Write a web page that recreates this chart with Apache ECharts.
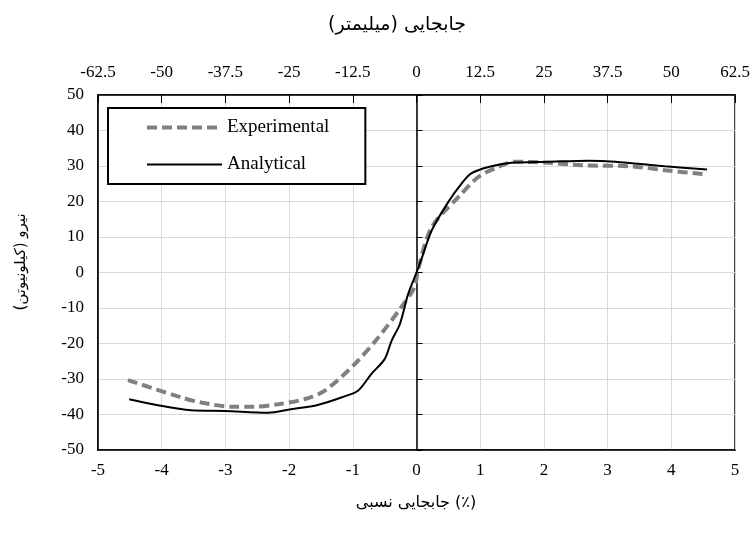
<!DOCTYPE html>
<html>
<head>
<meta charset="utf-8">
<script src="https://cdn.jsdelivr.net/npm/echarts@6/dist/echarts.min.js"></script>
<style>
  html, body { margin: 0; padding: 0; background: #fff; }
  #chart { width: 756px; height: 542px; }
</style>
</head>
<body>
<div id="chart"></div>
<script>
// Relative displacement (%) vs. force (kN)
const experimentalX = [-4.53, -3.69, -3.38, -2.91, -2.55, -2.17, -1.76, -1.44, -0.97, -0.60, -0.24, -0.03, 0.02, 0.24, 0.66, 0.97, 1.23, 1.54, 2.07, 2.59, 3.38, 3.90, 4.56];
const experimentalY = [-30.3, -35.2, -36.6, -37.8, -37.8, -37.1, -35.7, -33.3, -25.8, -18.3, -9.8, -4.1, 0.5, 12.8, 21.3, 26.9, 29.3, 31.2, 30.9, 30.2, 29.9, 28.8, 27.6];

const analyticalX = [-4.51, -4.06, -3.54, -3.01, -2.33, -1.97, -1.55, -1.18, -0.92, -0.71, -0.50, -0.39, -0.26, -0.13, 0.0, 0.08, 0.24, 0.50, 0.71, 0.86, 1.13, 1.49, 2.07, 2.70, 3.12, 3.90, 4.56];
const analyticalY = [-35.7, -37.4, -38.8, -39.0, -39.5, -38.5, -37.3, -35.2, -33.3, -28.6, -24.4, -19.2, -14.5, -6.0, 0.0, 3.9, 11.9, 19.9, 25.1, 27.9, 29.7, 30.9, 31.2, 31.5, 31.2, 29.9, 29.0];

const seriesNames = ['Experimental', 'Analytical'];
const titleTop = 'جابجایی (میلیمتر)';
const titleBottom = 'جابجایی نسبی (٪)';
const titleLeft = 'نیرو (کیلونیوتن)';

const pairs = (xs, ys) => xs.map((x, i) => [x, ys[i]]);
const font = "'Liberation Serif', 'Times New Roman', serif";
const persianFont = "'DejaVu Sans', 'Noto Sans', sans-serif";
const gridColor = '#d9d9d9';

const expLine = { color: '#808080', width: 4, type: [10, 5], cap: 'butt' };
const anaLine = { color: '#000', width: 2 };

const chart = echarts.init(document.getElementById('chart'));
chart.setOption({
  animation: false,
  backgroundColor: '#fff',
  textStyle: { fontFamily: font },
  grid: {
    left: 98, right: 21, top: 95, bottom: 92,
    show: true, borderColor: '#000', borderWidth: 1.5, backgroundColor: 'transparent'
  },
  title: [
    { text: titleTop, left: 392, top: 11, textAlign: 'center',
      textStyle: { fontFamily: persianFont, fontSize: 19, fontWeight: 'normal', color: '#000' } },
    { text: titleBottom, left: 411, top: 490, textAlign: 'center',
      textStyle: { fontFamily: persianFont, fontSize: 16, fontWeight: 'normal', color: '#000' } }
  ],
  graphic: [{
    type: 'text', x: 21, y: 262, rotation: Math.PI / 2,
    style: { text: titleLeft, font: '15px ' + persianFont, fill: '#000',
             align: 'center', verticalAlign: 'middle' }
  }],
  legend: {
    orient: 'vertical',
    left: 108, top: 108,
    padding: [10, 36, 10, 37],
    itemGap: 18,
    itemWidth: 75, itemHeight: 18,
    backgroundColor: '#fff',
    borderColor: '#000', borderWidth: 2,
    itemStyle: { color: 'transparent', borderColor: 'transparent', borderWidth: 0 },
    textStyle: { fontFamily: font, fontSize: 19, color: '#000' },
    data: [
      { name: seriesNames[0], lineStyle: expLine },
      { name: seriesNames[1], lineStyle: anaLine }
    ]
  },
  xAxis: [
    {
      type: 'value', position: 'bottom', min: -5, max: 5, interval: 1,
      axisLine: { onZero: false, lineStyle: { color: '#000', width: 1.5 } },
      axisTick: { show: false },
      axisLabel: { color: '#000', fontFamily: font, fontSize: 17, margin: 12 },
      splitLine: { show: true, lineStyle: { color: gridColor, width: 1 } }
    },
    {
      type: 'value', position: 'top', min: -62.5, max: 62.5, interval: 12.5,
      axisLine: { onZero: false, lineStyle: { color: '#000', width: 1.5 } },
      axisTick: { show: true, inside: true, length: 8, lineStyle: { color: '#000', width: 1 } },
      axisLabel: { color: '#000', fontFamily: font, fontSize: 17, margin: 14 },
      splitLine: { show: false }
    }
  ],
  yAxis: [
    {
      type: 'value', position: 'left', min: -50, max: 50, interval: 10,
      axisLine: { show: true, onZero: false, lineStyle: { color: '#000', width: 1.5 } },
      axisTick: { show: false },
      axisLabel: { color: '#000', fontFamily: font, fontSize: 17, margin: 14 },
      splitLine: { show: true, lineStyle: { color: gridColor, width: 1 } }
    },
    {
      type: 'value', position: 'right', min: -50, max: 50, interval: 10,
      axisLine: { show: true, onZero: true, onZeroAxisIndex: 0, lineStyle: { color: '#000', width: 1.5 } },
      axisTick: { show: true, length: 6, lineStyle: { color: '#000', width: 1 } },
      axisLabel: { show: false },
      splitLine: { show: false }
    }
  ],
  series: [
    {
      name: seriesNames[0], type: 'line', xAxisIndex: 0, yAxisIndex: 0,
      data: pairs(experimentalX, experimentalY),
      smooth: 0.3, symbol: 'none', z: 3,
      lineStyle: expLine,
      itemStyle: { color: '#808080' }
    },
    {
      name: seriesNames[1], type: 'line', xAxisIndex: 0, yAxisIndex: 0,
      data: pairs(analyticalX, analyticalY),
      smooth: 0.3, symbol: 'none', z: 4,
      lineStyle: anaLine,
      itemStyle: { color: '#000' }
    }
  ]
});
</script>
</body>
</html>
